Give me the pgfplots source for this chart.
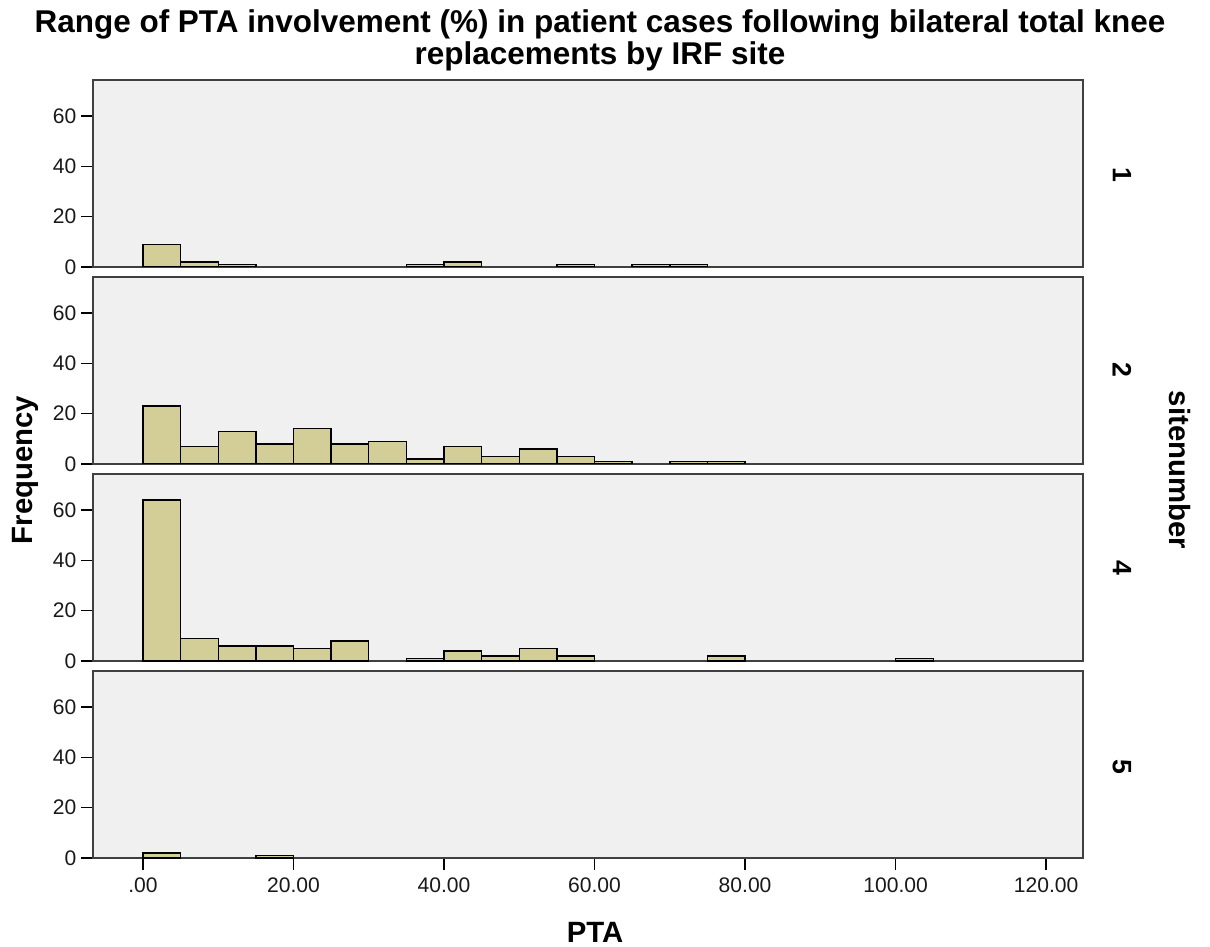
\documentclass[border=0pt]{standalone}
\usepackage{pgfplots}
\pgfplotsset{compat=1.18}
\usepackage{fontspec}
\setmainfont{Liberation Sans}
\definecolor{barfill}{RGB}{211,206,151}
\definecolor{panelbg}{RGB}{240,240,240}
\pgfplotsset{
  panel/.style={
    scale only axis,
    width=742.5pt, height=140.25pt,
    anchor=north west,
    xmin=-6.64, xmax=124.9,
    ymin=0, ymax=74.3,
    axis background/.style={fill=panelbg},
    axis line style={black!75, line width=1pt},
    ytick={0,20,40,60},
    ytick pos=left,
    tick align=outside,
    major tick length=9pt,
    tick style={black, line width=1.1pt},
    xtick=\empty,
    /pgf/number format/assume math mode=true,
    tick label style={font=\fontsize{15.8pt}{18pt}\selectfont, text=black!90},
    ybar, bar width=5, bar shift=0pt,
  },
  bars/.style={draw=black, fill=barfill, line width=1.1pt},
}
\begin{document}
\begin{tikzpicture}
\path[use as bounding box, fill=white] (0,0) rectangle (907.5pt,709.5pt);
% panel site 1
\begin{axis}[panel, at={(69.75pt,649.5pt)}]
\addplot[bars] coordinates {(2.5,9) (7.5,2) (12.5,1) (37.5,1) (42.5,2) (57.5,1) (67.5,1) (72.5,1)};
\end{axis}
% panel site 2
\begin{axis}[panel, at={(69.75pt,501.75pt)}]
\addplot[bars] coordinates {(2.5,23) (7.5,7) (12.5,13) (17.5,8) (22.5,14) (27.5,8) (32.5,9) (37.5,2) (42.5,7) (47.5,3) (52.5,6) (57.5,3) (62.5,1) (72.5,1) (77.5,1)};
\end{axis}
% panel site 4
\begin{axis}[panel, at={(69.75pt,354pt)}]
\addplot[bars] coordinates {(2.5,64) (7.5,9) (12.5,6) (17.5,6) (22.5,5) (27.5,8) (37.5,1) (42.5,4) (47.5,2) (52.5,5) (57.5,2) (77.5,2) (102.5,1)};
\end{axis}
% panel site 5
\begin{axis}[panel, at={(69.75pt,206.25pt)},
  xtick={0,20,40,60,80,100,120},
  xticklabels={.00,20.00,40.00,60.00,80.00,100.00,120.00},
  xtick pos=bottom,
  xticklabel style={yshift=-2pt}]
\addplot[bars] coordinates {(2.5,2) (17.5,1)};
\end{axis}
% titles and labels
\node[align=center, font=\fontsize{23.6pt}{24pt}\selectfont\bfseries] at (450pt,679.5pt)
  {Range of PTA involvement (\%) in patient cases following bilateral total knee\\replacements by IRF site};
\node[rotate=90, font=\fontsize{22pt}{24pt}\selectfont\bfseries] at (18.75pt,357pt) {Frequency};
\node[font=\fontsize{22pt}{24pt}\selectfont\bfseries] at (446.25pt,10.5pt) {PTA};
\node[rotate=-90, font=\fontsize{22pt}{24pt}\selectfont\bfseries] at (885pt,357pt) {sitenumber};
\foreach \lab/\yy in {1/578.25pt, 2/432pt, 4/283.5pt, 5/134.25pt}
  \node[rotate=-90, font=\fontsize{20pt}{24pt}\selectfont\bfseries] at (841.5pt,\yy) {\lab};
\end{tikzpicture}
\end{document}
